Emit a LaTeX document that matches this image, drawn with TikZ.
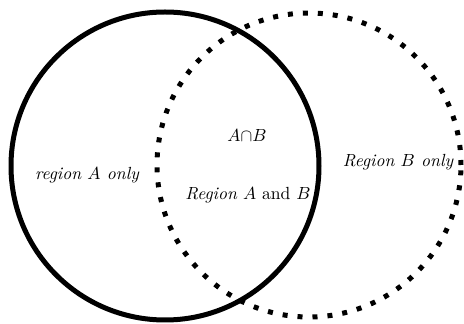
\documentclass[tikz,border=0pt]{standalone}
\usepackage{amsmath}
\usepackage{amssymb}
\begin{document}
\begin{tikzpicture}[x=0.02cm,y=-0.02cm,
        set/.style={circle,draw,line width=0.1cm,inner sep=0pt},
        lbl/.style={font=\itshape}]
        \useasboundingbox (0,0) rectangle (464,324);
        \node[set,minimum size=308*0.02cm] (A) at (165,166) {};
        \node[set,minimum size=304*0.02cm,dash pattern=on 0.1cm off 0.2cm] (B) at (309,165) {};
        \node[lbl] (ra) at (87,175) {region $A$ only};
        \node (cap) at (247,135) {$A{\cap}B$};
        \node (ab) at (248,195) {\textit{Region} $A$ and $B$};
        \node[lbl] (rb) at (398,162) {Region $B$ only};
    \end{tikzpicture}
\end{document}
